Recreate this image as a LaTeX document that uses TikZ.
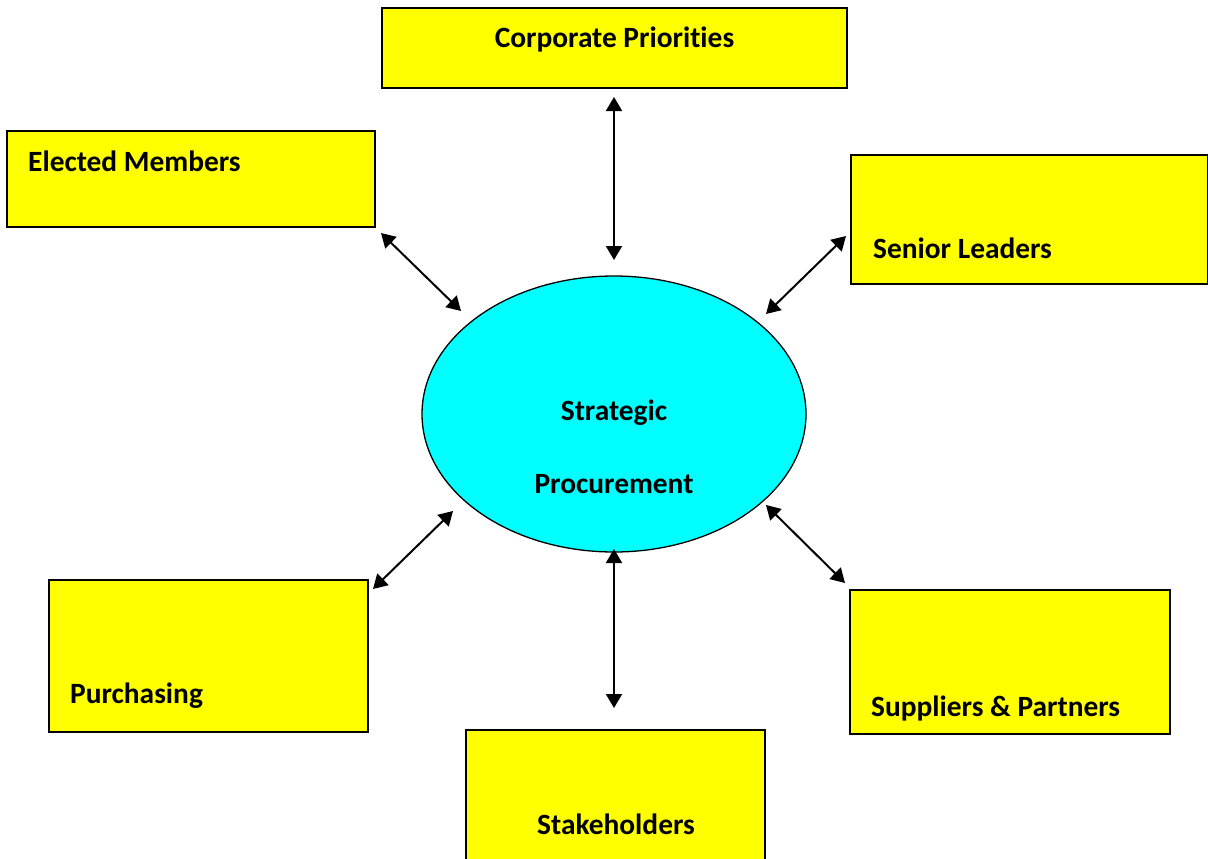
\documentclass[tikz,border=0pt]{standalone}
\usepackage{fontspec}
\setmainfont[Ligatures=NoCommon]{Carlito}
\usetikzlibrary{arrows.meta,shapes.geometric}
\definecolor{boxyellow}{RGB}{255,255,0}
\definecolor{corecyan}{RGB}{0,255,255}
\begin{document}
\begin{tikzpicture}[x=1pt,y=-1pt,
  box/.style={draw=black,line width=1.3pt,fill=boxyellow,inner sep=0pt},
  lbl/.style={font=\fontsize{29.4}{33}\selectfont\bfseries,inner sep=0pt},
  link/.style={line width=2pt,{Triangle[length=14pt,width=16pt]}-{Triangle[length=14pt,width=16pt]}}]
\useasboundingbox (0,0) rectangle (1208,859);
% boxes
\node[box,minimum width=465pt,minimum height=80pt] (cp) at (614.5,48) {};
\node[box,minimum width=368pt,minimum height=96pt] (em) at (191,179) {};
\node[box,minimum width=357pt,minimum height=129pt] (sl) at (1029.5,219.5) {};
\node[box,minimum width=319pt,minimum height=152pt] (pu) at (208.5,656) {};
\node[box,minimum width=320pt,minimum height=144pt] (sp) at (1010,662) {};
\node[box,minimum width=299pt,minimum height=150pt] (st) at (615.5,805) {};
% ellipse
\node[ellipse,draw=black,line width=1.3pt,fill=corecyan,minimum width=384pt,minimum height=276pt,inner sep=0pt] (core) at (614,414) {};
% labels
\node[lbl] (cpt) at (614.5,39) {Corporate Priorities};
\node[lbl,anchor=west] (emt) at (28,161) {Elected Members};
\node[lbl,anchor=west] (slt) at (873,248) {Senior Leaders};
\node[lbl,anchor=west] (put) at (70,696) {Purchasing};
\node[lbl,anchor=west] (spt) at (871,708) {Suppliers \& Partners};
\node[lbl] (stt) at (616,824) {Stakeholders};
\node[lbl] (coret1) at (614,413) {Strategic};
\node[lbl] (coret2) at (614,484) {Procurement};
% connector ends
\coordinate (a1) at (614,97);  \coordinate (b1) at (614,260);
\coordinate (a2) at (381,233); \coordinate (b2) at (461,311);
\coordinate (a3) at (846,236); \coordinate (b3) at (766,314);
\coordinate (a4) at (373,589); \coordinate (b4) at (453,511);
\coordinate (a5) at (845,583); \coordinate (b5) at (766,505);
\coordinate (a6) at (614,708); \coordinate (b6) at (614,549);
\foreach \i in {1,...,6} {\draw[link] (a\i) -- (b\i);}
\end{tikzpicture}
\end{document}
